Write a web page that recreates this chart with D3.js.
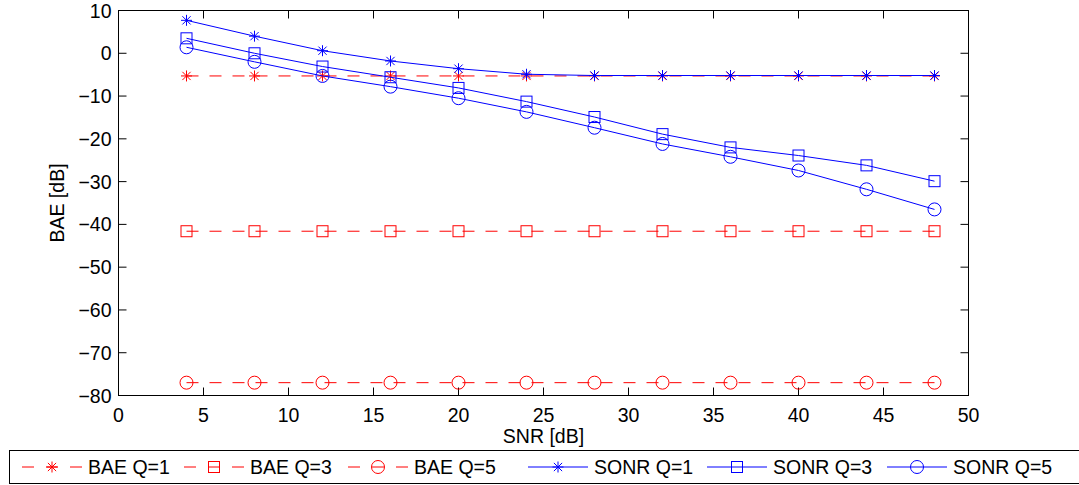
<!DOCTYPE html>
<html>
<head>
<meta charset="utf-8">
<script src="https://cdn.jsdelivr.net/npm/d3@7"></script>
<style>
  body { margin: 0; background: #fff; }
  svg { display: block; font-family: "Liberation Sans", Arial, sans-serif; }
</style>
</head>
<body>
<div id="chart"></div>
<script>
// data
const snr = [4, 8, 12, 16, 20, 24, 28, 32, 36, 40, 44, 48];
const baeQ1 = [-5.3, -5.3, -5.3, -5.3, -5.3, -5.3, -5.3, -5.3, -5.3, -5.3, -5.3, -5.3];
const baeQ3 = [-41.6, -41.6, -41.6, -41.6, -41.6, -41.6, -41.6, -41.6, -41.6, -41.6, -41.6, -41.6];
const baeQ5 = [-77, -77, -77, -77, -77, -77, -77, -77, -77, -77, -77, -77];
const sonrQ1 = [7.7, 4.0, 0.6, -1.8, -3.6, -4.9, -5.2, -5.2, -5.2, -5.2, -5.2, -5.2];
const sonrQ3 = [3.5, 0.0, -3.1, -5.6, -8.1, -11.3, -14.9, -18.9, -22.0, -23.9, -26.2, -29.9];
const sonrQ5 = [1.4, -2.0, -5.3, -7.8, -10.5, -13.7, -17.4, -21.2, -24.2, -27.4, -31.8, -36.5];
const xTicks = [0, 5, 10, 15, 20, 25, 30, 35, 40, 45, 50];
const yTicks = [10, 0, -10, -20, -30, -40, -50, -60, -70, -80];

const series = [
  { name: "BAE Q=1", values: baeQ1, color: "#ff0000", dash: "12,11", marker: "star" },
  { name: "BAE Q=3", values: baeQ3, color: "#ff0000", dash: "12,11", marker: "square" },
  { name: "BAE Q=5", values: baeQ5, color: "#ff0000", dash: "12,11", marker: "circle" },
  { name: "SONR Q=1", values: sonrQ1, color: "#0000ff", dash: null, marker: "star" },
  { name: "SONR Q=3", values: sonrQ3, color: "#0000ff", dash: null, marker: "square" },
  { name: "SONR Q=5", values: sonrQ5, color: "#0000ff", dash: null, marker: "circle" }
];

const W = 1079, H = 485;
const pL = 118.5, pR = 968.5, pT = 10.5, pB = 395.5;
const fs = 19.5;

const svg = d3.select("#chart").append("svg")
  .attr("width", W).attr("height", H);

const x = d3.scaleLinear().domain([0, 50]).range([pL, pR]);
const y = d3.scaleLinear().domain([-80, 10]).range([pB, pT]);

// axes box
svg.append("rect")
  .attr("x", pL).attr("y", pT)
  .attr("width", pR - pL).attr("height", pB - pT)
  .attr("fill", "none").attr("stroke", "#000").attr("stroke-width", 1);

const tickLen = 8;
const ax = svg.append("g").attr("stroke", "#000").attr("stroke-width", 1);
xTicks.forEach(t => {
  ax.append("line").attr("x1", x(t)).attr("x2", x(t)).attr("y1", pB).attr("y2", pB - tickLen);
  ax.append("line").attr("x1", x(t)).attr("x2", x(t)).attr("y1", pT).attr("y2", pT + tickLen);
});
yTicks.forEach(t => {
  ax.append("line").attr("x1", pL).attr("x2", pL + tickLen).attr("y1", y(t)).attr("y2", y(t));
  ax.append("line").attr("x1", pR).attr("x2", pR - tickLen).attr("y1", y(t)).attr("y2", y(t));
});

// tick labels
svg.append("g").selectAll("text").data(xTicks).join("text")
  .attr("x", d => x(d)).attr("y", pB + 26)
  .attr("text-anchor", "middle")
  .style("font-size", fs + "px")
  .text(d => d);

svg.append("g").selectAll("text").data(yTicks).join("text")
  .attr("x", pL - 7).attr("y", d => y(d))
  .attr("text-anchor", "end").attr("dominant-baseline", "central")
  .style("font-size", fs + "px")
  .text(d => d < 0 ? "\u2212" + Math.abs(d) : d);

// axis titles
svg.append("text")
  .attr("x", x(25)).attr("y", 443)
  .attr("text-anchor", "middle")
  .style("font-size", fs + "px")
  .text("SNR [dB]");

svg.append("text")
  .attr("transform", `translate(64, ${(pT + pB) / 2}) rotate(-90)`)
  .attr("text-anchor", "middle")
  .style("font-size", fs + "px")
  .text("BAE [dB]");

// marker drawing
function drawMarker(g, type, cx, cy, color) {
  if (type === "star") {
    const r = 5.5, d = r * 0.75;
    g.append("path")
      .attr("d", `M${cx - r},${cy}L${cx + r},${cy}M${cx},${cy - r}L${cx},${cy + r}` +
        `M${cx - d},${cy - d}L${cx + d},${cy + d}M${cx - d},${cy + d}L${cx + d},${cy - d}`)
      .attr("stroke", color).attr("stroke-width", 1).attr("fill", "none");
  } else if (type === "square") {
    const s = 11;
    g.append("rect").attr("x", cx - s / 2).attr("y", cy - s / 2)
      .attr("width", s).attr("height", s)
      .attr("fill", "none").attr("stroke", color).attr("stroke-width", 1);
  } else {
    g.append("circle").attr("cx", cx).attr("cy", cy).attr("r", 6.5)
      .attr("fill", "none").attr("stroke", color).attr("stroke-width", 1);
  }
}

const line = d3.line().x(d => x(d[0])).y(d => y(d[1]));
const plot = svg.append("g");

series.forEach(s => {
  const pts = snr.map((v, i) => [v, s.values[i]]);
  const g = plot.append("g");
  g.append("path")
    .attr("d", line(pts))
    .attr("fill", "none")
    .attr("stroke", s.color)
    .attr("stroke-width", 1)
    .attr("stroke-dasharray", s.dash);
  pts.forEach(p => drawMarker(g, s.marker, x(p[0]), y(p[1]), s.color));
});

// legend
const legTop = 450.5, legBot = 483.5;
svg.append("rect")
  .attr("x", 9.5).attr("y", legTop)
  .attr("width", 1080).attr("height", legBot - legTop)
  .attr("fill", "#fff").attr("stroke", "#000").attr("stroke-width", 1);

const legStarts = [22, 184, 348, 528, 707, 887];
const legY = (legTop + legBot) / 2;
series.forEach((s, i) => {
  const g = svg.append("g");
  const x0 = legStarts[i];
  g.append("line")
    .attr("x1", x0).attr("x2", x0 + 60)
    .attr("y1", legY).attr("y2", legY)
    .attr("stroke", s.color).attr("stroke-width", 1)
    .attr("stroke-dasharray", s.dash ? "12,12" : null);
  drawMarker(g, s.marker, x0 + 30, legY, s.color);
  g.append("text")
    .attr("x", x0 + 66).attr("y", legY)
    .attr("dominant-baseline", "central")
    .style("font-size", fs + "px")
    .text(s.name);
});
</script>
</body>
</html>
